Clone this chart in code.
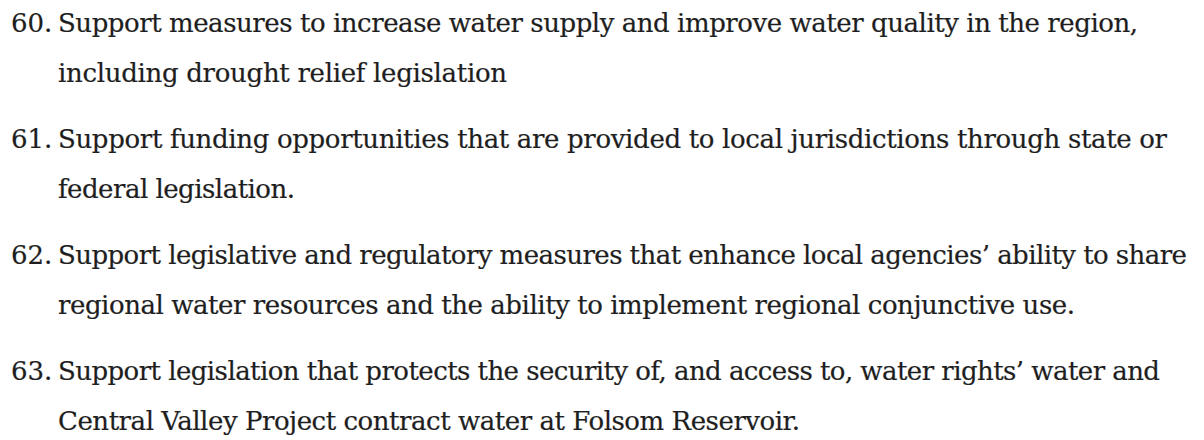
<!DOCTYPE html>
<html>
<head>
<meta charset="utf-8">
<script src="https://cdn.jsdelivr.net/npm/chart.js@4"></script>
<style>
  html, body {
    margin: 0;
    padding: 0;
    background: #fff;
  }
  #page {
    position: relative;
    width: 1204px;
    height: 440px;
    overflow: hidden;
    font-family: "DejaVu Serif", serif;
    font-size: 26px;
    color: #1e1e1e;
    -webkit-text-stroke: 0.2px #1e1e1e;
  }
  .ln {
    position: absolute;
    white-space: nowrap;
    line-height: 1;
  }
</style>
</head>
<body>
<div id="page"></div>
<script>
// list numbers and wrapped lines, as in the scan
const numbers = ['60.', '61.', '62.', '63.'];
const lines = [
  ['Support measures to increase water supply and improve water quality in the region,',
   'including drought relief legislation'],
  ['Support funding opportunities that are provided to local jurisdictions through state or',
   'federal legislation.'],
  ['Support legislative and regulatory measures that enhance local agencies\u2019 ability to share',
   'regional water resources and the ability to implement regional conjunctive use.'],
  ['Support legislation that protects the security of, and access to, water rights\u2019 water and',
   'Central Valley Project contract water at Folsom Reservoir.']
];

// layout (px)
const numLeft = 11;
const textLeft = 58;
const baselines = [[32, 82], [148, 198], [264, 314], [380, 430]];
const lineEnds = [[1138, 507], [1167, 295], [1187, 1075], [1160, 800]];

const page = document.getElementById('page');

function place(text, left, base, right) {
  const el = document.createElement('div');
  el.className = 'ln';
  el.style.left = left + 'px';
  el.style.top = '0px';
  el.textContent = text;
  const mark = document.createElement('span');
  mark.style.cssText = 'display:inline-block;width:0;height:0;vertical-align:baseline';
  el.appendChild(mark);
  page.appendChild(el);
  if (right) {
    const w = el.getBoundingClientRect().width;
    const n = text.length - 1;
    if (n > 0) el.style.letterSpacing = ((right - left - w) / n) + 'px';
  }
  el.style.top = (base - mark.offsetTop) + 'px';
}

numbers.forEach((num, i) => {
  place(num, numLeft, baselines[i][0]);
  lines[i].forEach((t, j) => {
    place(t, textLeft, baselines[i][j], lineEnds[i][j]);
  });
});
</script>
</body>
</html>
